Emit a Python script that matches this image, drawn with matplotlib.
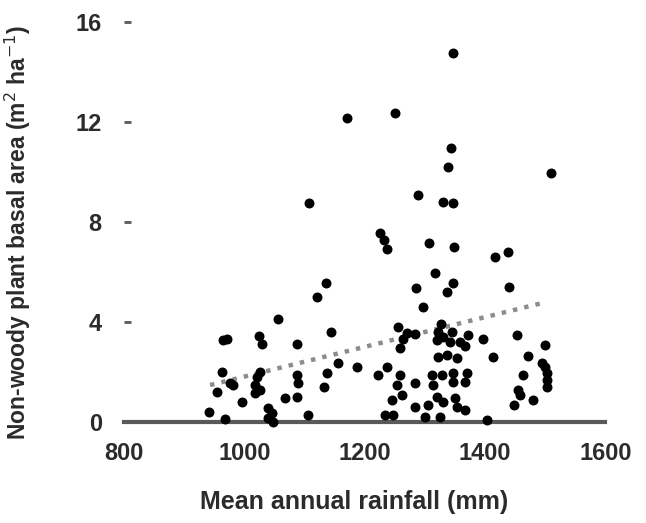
import numpy as np
import matplotlib.pyplot as plt

plt.rcParams['font.family'] = ['Liberation Sans', 'DejaVu Sans']

# mean annual rainfall (mm) and non-woody plant basal area (m2/ha)
rainfall = [
    1347, 1171, 1251, 1344, 1339, 1510, 1108, 1289, 1330, 1347,
    1226, 1232, 1237, 1307, 1349, 1417, 1439, 1317, 1136, 1121,
    1286, 1347, 1337, 1440, 1297, 1056, 1144, 971, 965, 1025,
    1029, 1088, 1256, 1271, 1284, 1264, 1259, 1327, 1322, 1330,
    1345, 1321, 1342, 1359, 1372, 1367, 1397, 1454, 1500, 1414,
    1472, 1495, 1500, 1503, 1503, 1503, 1463, 1455, 1459, 1480,
    1449, 1322, 1337, 1354, 1237, 1222, 1259, 1254, 1262, 1246,
    1284, 1312, 1329, 1347, 1347, 1370, 1367, 1314, 1321, 1330,
    1306, 1284, 1350, 1354, 1367, 1326, 1234, 1247, 1187, 1156,
    1138, 1133, 1088, 1089, 1088, 1068, 1106, 1026, 1021, 1018,
    1026, 1018, 963, 976, 981, 955, 996, 941, 968, 1039,
    1046, 1039, 1048, 1404, 1300,
]
basal_area = [
    14.76, 12.16, 12.36, 10.96, 10.2, 9.96, 8.76, 9.08, 8.8, 8.76,
    7.56, 7.28, 6.92, 7.16, 7.0, 6.6, 6.8, 5.96, 5.56, 5.0,
    5.36, 5.56, 5.2, 5.4, 4.6, 4.12, 3.6, 3.32, 3.28, 3.44,
    3.12, 3.12, 3.8, 3.56, 3.52, 3.32, 2.96, 3.92, 3.6, 3.4,
    3.6, 3.28, 3.2, 3.2, 3.48, 3.04, 3.32, 3.48, 3.08, 2.6,
    2.64, 2.36, 2.2, 1.96, 1.68, 1.4, 1.88, 1.28, 1.08, 0.88,
    0.68, 2.6, 2.68, 2.56, 2.2, 1.88, 1.88, 1.48, 1.08, 0.88,
    1.56, 1.88, 1.88, 1.96, 1.6, 1.96, 1.6, 1.48, 1.0, 0.8,
    0.68, 0.6, 0.96, 0.6, 0.48, 0.2, 0.28, 0.28, 2.2, 2.36,
    1.96, 1.4, 1.88, 1.56, 1.0, 0.96, 0.28, 2.0, 1.8, 1.48,
    1.28, 1.16, 2.0, 1.56, 1.48, 1.2, 0.8, 0.4, 0.12, 0.56,
    0.36, 0.16, 0.0, 0.1, 0.2,
]

# linear trend line end points
trend_x = [943, 1495]
trend_y = [1.48, 4.76]

x_ticks = [800, 1000, 1200, 1400, 1600]
y_ticks = [0, 4, 8, 12, 16]

fig = plt.figure(figsize=(6.46, 5.23), dpi=100)
ax = fig.add_axes([0.192, 0.193, 0.745, 0.765])

ax.scatter(rainfall, basal_area, s=38, color='black', zorder=3, clip_on=False)
ax.plot(trend_x, trend_y, color='#8c8c8c', linewidth=3.2,
        linestyle=(0, (1.0, 1.6)), zorder=2)

ax.set_xlim(800, 1600)
ax.set_ylim(0, 16)
ax.set_xticks(x_ticks)
ax.set_yticks(y_ticks)

for side in ['top', 'right', 'left']:
    ax.spines[side].set_visible(False)
ax.spines['bottom'].set_color('#595959')
ax.spines['bottom'].set_linewidth(3.0)
ax.spines['bottom'].set_zorder(1)

ax.tick_params(axis='x', length=0, pad=14, labelsize=17, labelcolor='#2b2b2b')
ax.tick_params(axis='y', direction='in', length=5, width=2, color='#595959',
               pad=16, labelsize=17, labelcolor='#2b2b2b')
for lab in ax.get_xticklabels() + ax.get_yticklabels():
    lab.set_fontweight('bold')

ax.set_xlabel('Mean annual rainfall (mm)', fontsize=18, fontweight='bold',
              color='#2b2b2b')
ax.set_ylabel('Non-woody plant basal area (m$^2$ ha$^{-1}$)', fontsize=16.5,
              fontweight='bold', color='#2b2b2b')
ax.xaxis.set_label_coords(0.478, -0.17)
ax.yaxis.set_label_coords(-0.19, 0.475)

fig.savefig('out.png', dpi=100)
